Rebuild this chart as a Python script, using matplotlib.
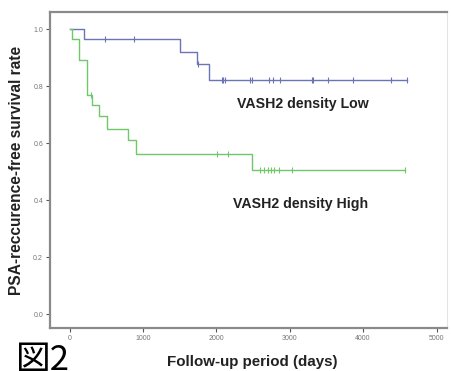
import numpy as np
import matplotlib
matplotlib.use('Agg')
import matplotlib.pyplot as plt

plt.rcParams['font.family'] = ['Liberation Sans', 'DejaVu Sans']

# Kaplan-Meier steps
low_t = [0, 198, 1505, 1733, 1905, 4594]
low_s = [1.0, 0.965, 0.918, 0.877, 0.82, 0.82]
low_cens = [484, 880, 1746, 2075, 2095, 2120, 2460, 2490, 2720, 2777, 2868,
            3300, 3320, 3526, 3858, 4376, 4594]

high_t = [0, 30, 130, 242, 305, 402, 515, 800, 905, 2480, 4570]
high_s = [1.0, 0.965, 0.89, 0.77, 0.733, 0.695, 0.65, 0.61, 0.56, 0.507, 0.507]
high_cens = [290, 2005, 2160, 2600, 2650, 2700, 2750, 2790, 2850, 3030, 4570]

xticks = [0, 1000, 2000, 3000, 4000, 5000]
yticks = [0.0, 0.2, 0.4, 0.6, 0.8, 1.0]

blue = '#6b74b4'
green = '#70c86a'

W, H = 451, 371
fig = plt.figure(figsize=(W / 100, H / 100), dpi=100)
ax = fig.add_axes([50 / W, (H - 328) / H, (447 - 50) / W, (328 - 12) / H])


def cens_y(t, s, c):
    idx = np.searchsorted(t, c, side='right') - 1
    return np.array(s)[idx]


for t, s, c, col in [(low_t, low_s, low_cens, blue),
                     (high_t, high_s, high_cens, green)]:
    ax.step(t, s, where='post', color=col, lw=1.0)
    ax.plot(c, cens_y(t, s, c), ls='none', marker='|', ms=4, mew=0.8,
            color=col)

ax.set_xlim(-266, 5143)
ax.set_ylim(-0.049, 1.06)
ax.set_xticks(xticks)
ax.set_yticks(yticks)
ax.set_xticklabels([str(v) for v in xticks])
ax.set_yticklabels(['%.1f' % v for v in yticks])
ax.tick_params(direction='out', length=3, width=0.8, labelsize=5,
               colors='#555555', labelcolor='#777777', pad=2)

for side in ['left', 'bottom', 'top']:
    ax.spines[side].set_color('#8a8a8a')
    ax.spines[side].set_linewidth(1.6)
ax.spines['right'].set_color('#e4e4e4')
ax.spines['right'].set_linewidth(0.8)

ax.text(2282, 0.737, 'VASH2 density Low', fontsize=10.2, fontweight='bold',
        color='#222222', va='center', ha='left')
ax.text(2228, 0.386, 'VASH2 density High', fontsize=10.2, fontweight='bold',
        color='#222222', va='center', ha='left')

fig.text(17 / W, 1 - 170 / H, 'PSA-reccurence-free survival rate',
         rotation=90, fontsize=11.2, fontweight='bold', color='#222222',
         ha='center', va='center')
fig.text(252 / W, 1 - 362 / H, 'Follow-up period (days)', fontsize=10.9,
         fontweight='bold', color='#222222', ha='center', va='center')

fig.text(16 / W, 1 - 343 / H, '図2', fontsize=25, color='black',
         ha='left', va='top', family=['Noto Sans CJK JP', 'DejaVu Sans'])

fig.savefig('out.png', dpi=100)
